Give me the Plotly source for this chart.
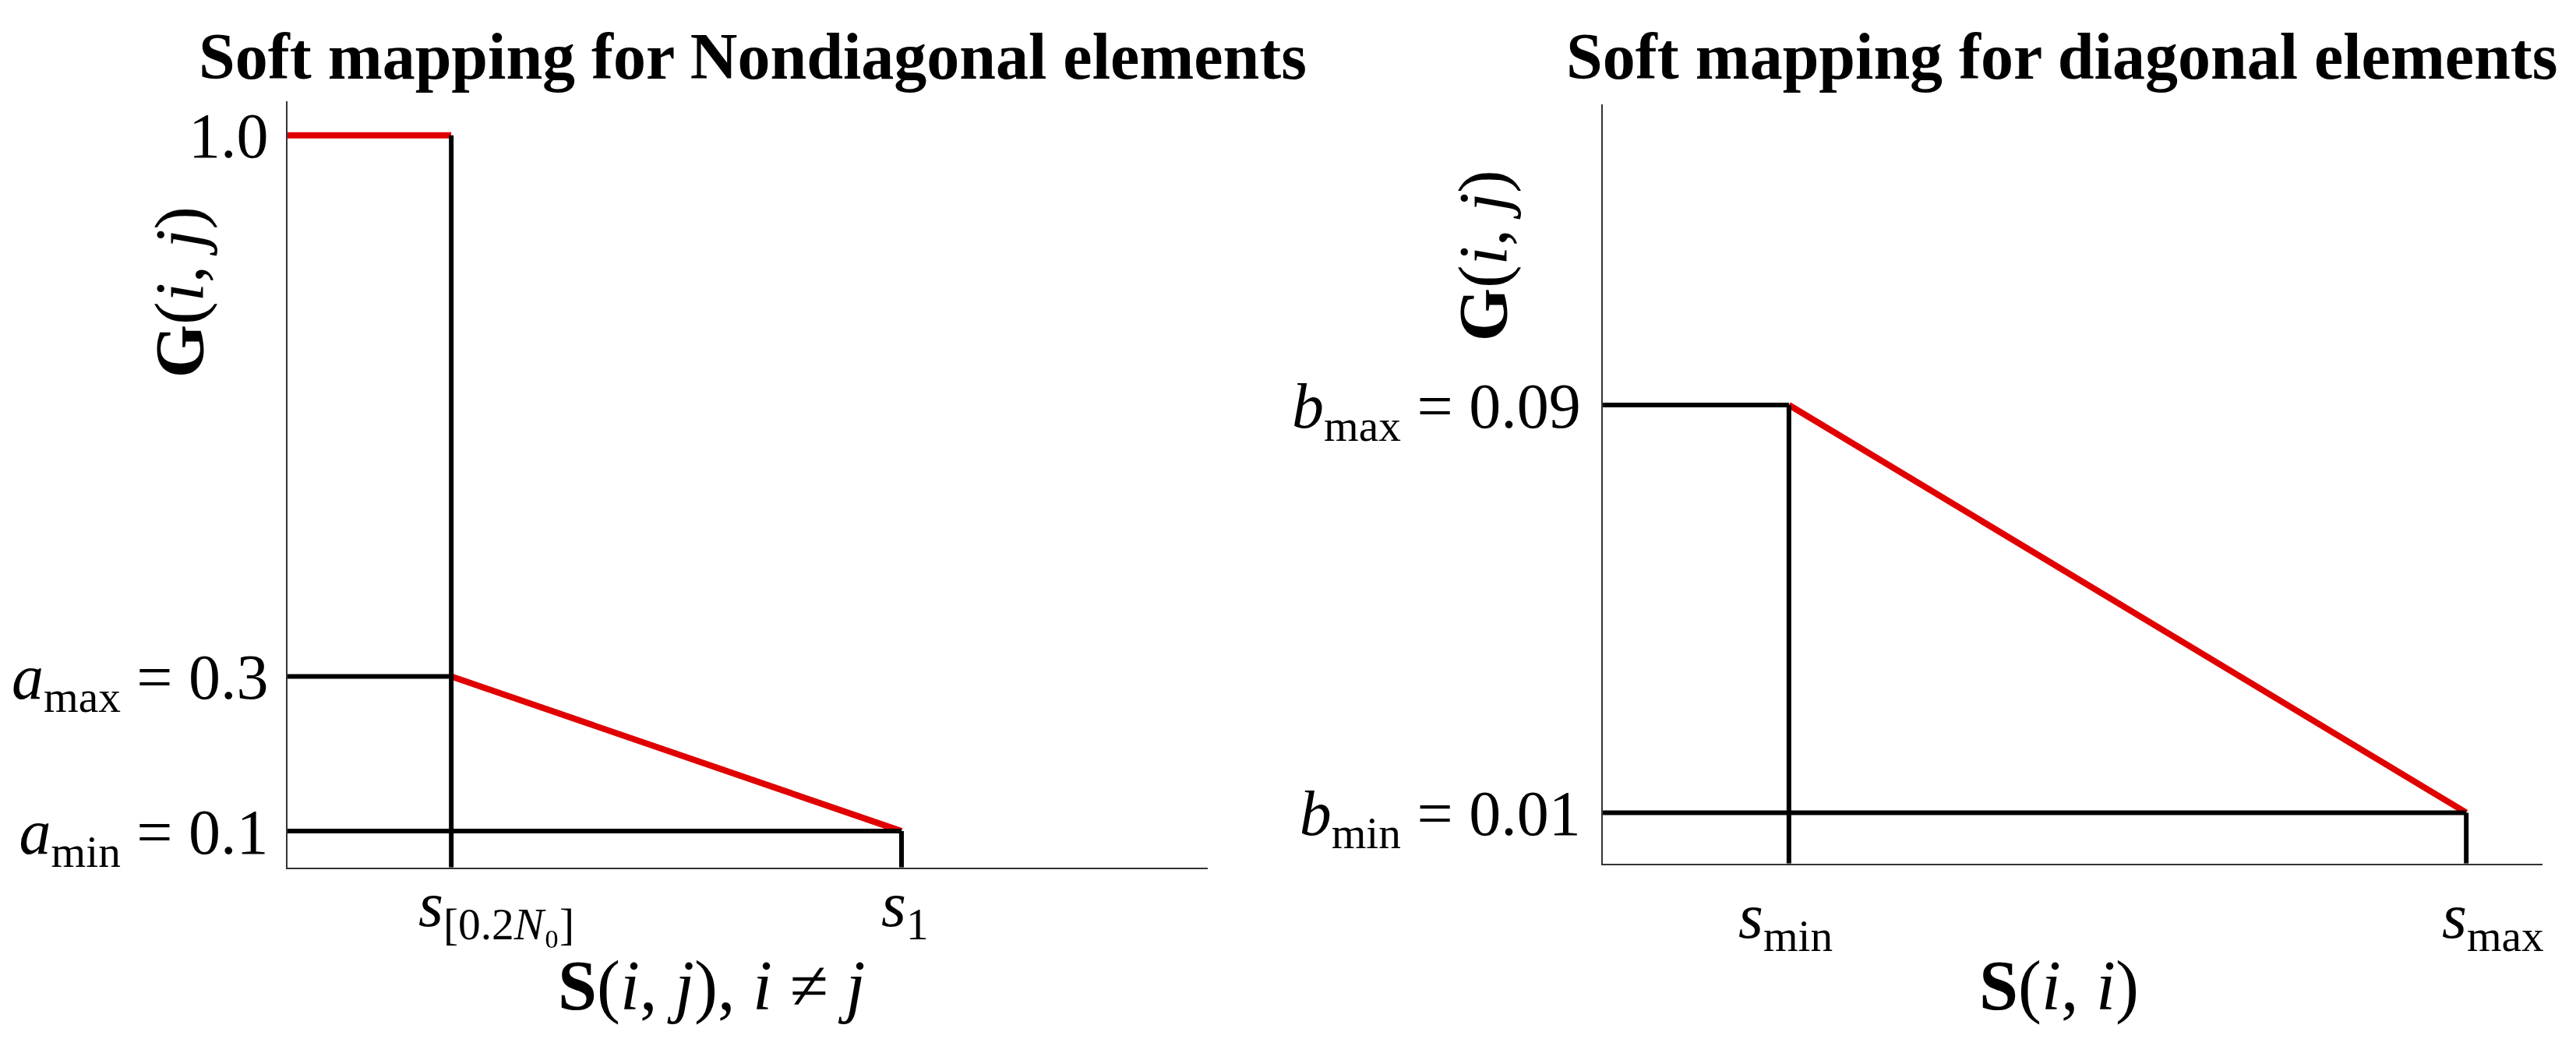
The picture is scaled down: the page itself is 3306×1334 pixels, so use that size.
import plotly.graph_objects as go

# Panel 1: soft mapping for non-diagonal elements
nd_s = [0.0, 1.0, 3.75]          # origin, s_[0.2N0], s_1
nd_g = [1.0, 0.3, 0.1]           # 1.0, a_max, a_min
nd_x_labels = ["<i>s</i><sub>[0.2<i>N</i>₀]</sub>", "<i>s</i><sub>1</sub>"]
nd_y_labels = ["1.0", "<i>a</i><sub>max</sub> = 0.3", "<i>a</i><sub>min</sub> = 0.1"]
nd_x_range = [0, 5.62]
nd_y_range = [0.053, 1.044]

# Panel 2: soft mapping for diagonal elements
d_s = [0.0, 1.0, 4.64]           # origin, s_min, s_max
d_g = [0.09, 0.01]               # b_max, b_min
d_x_labels = ["<i>s</i><sub>min</sub>", "<i>s</i><sub>max</sub>"]
d_y_labels = ["<i>b</i><sub>max</sub> = 0.09", "<i>b</i><sub>min</sub> = 0.01"]
d_x_range = [0, 5.05]
d_y_range = [0, 0.149]

titles = ["Soft mapping for Nondiagonal elements", "Soft mapping for diagonal elements"]
x_titles = ["<b>S</b>(<i>i</i>, <i>j</i>), <i>i</i> ≠ <i>j</i>", "<b>S</b>(<i>i</i>, <i>i</i>)"]
y_title = "<b>G</b>(<i>i</i>, <i>j</i>)"

FONT = "Times New Roman, Liberation Serif, serif"
RED = "#e00000"
BLACK = "black"

fig = go.Figure()

# red mapping curves
fig.add_trace(go.Scatter(
    x=[nd_s[0], nd_s[1], None, nd_s[1], nd_s[2]],
    y=[nd_g[0], nd_g[0], None, nd_g[1], nd_g[2]],
    mode="lines", line=dict(color=RED, width=8), xaxis="x", yaxis="y"))
fig.add_trace(go.Scatter(
    x=[d_s[1], d_s[2]], y=[d_g[0], d_g[1]],
    mode="lines", line=dict(color=RED, width=8), xaxis="x2", yaxis="y2"))

# black guide lines
floor1 = nd_y_range[0]
fig.add_trace(go.Scatter(
    x=[nd_s[0], nd_s[1], None, nd_s[0], nd_s[2], None,
       nd_s[1], nd_s[1], None, nd_s[2], nd_s[2]],
    y=[nd_g[1], nd_g[1], None, nd_g[2], nd_g[2], None,
       nd_g[0], floor1, None, nd_g[2], floor1],
    mode="lines", line=dict(color=BLACK, width=6), xaxis="x", yaxis="y"))
floor2 = d_y_range[0]
fig.add_trace(go.Scatter(
    x=[d_s[0], d_s[1], None, d_s[0], d_s[2], None,
       d_s[1], d_s[1], None, d_s[2], d_s[2]],
    y=[d_g[0], d_g[0], None, d_g[1], d_g[1], None,
       d_g[0], floor2, None, d_g[1], floor2],
    mode="lines", line=dict(color=BLACK, width=6), xaxis="x2", yaxis="y2"))

axis_common = dict(showgrid=False, zeroline=False, showline=True,
                   linecolor="#333", linewidth=2, ticks="", fixedrange=True)

annotations = []
# panel titles
for t, xc in zip(titles, [0.2898, 0.798]):
    annotations.append(dict(text="<b>%s</b>" % t, x=xc, y=0.951, xref="paper", yref="paper",
                            xanchor="center", yanchor="middle", showarrow=False,
                            font=dict(size=84, family=FONT, color="black")))
# x axis titles
for t, xc in zip(x_titles, [0.274, 0.797]):
    annotations.append(dict(text=t, x=xc, y=0.049, xref="paper", yref="paper",
                            xanchor="center", yanchor="middle", showarrow=False,
                            font=dict(size=90, family=FONT, color="black")))
# y axis titles
for xc, yc in [(0.0672, 0.7226), (0.5732, 0.7579)]:
    annotations.append(dict(text=y_title, x=xc, y=yc, xref="paper", yref="paper",
                            xanchor="center", yanchor="middle", textangle=-90, showarrow=False,
                            font=dict(size=88, family=FONT, color="black")))
# x tick labels (the "s" sits over the tick, subscripts run right)
nudge = {"x": [58, 5], "x2": [-4, 34]}
for ax, vals, labels, ybot, ys in [("x", nd_s[1:], nd_x_labels, 0.1642, 0),
                                   ("x2", d_s[1:], d_x_labels, 0.1679, -20)]:
    for v, lab, dx in zip(vals, labels, nudge[ax]):
        annotations.append(dict(text=lab, x=v, y=ybot, xref=ax, yref="paper",
                                xanchor="center", yanchor="top", xshift=dx, yshift=ys,
                                showarrow=False,
                                font=dict(size=82, family=FONT, color="black")))

fig.update_layout(
    width=3306, height=1334,
    margin=dict(l=0, r=0, t=0, b=0),
    paper_bgcolor="white", plot_bgcolor="white",
    showlegend=False,
    font=dict(family=FONT, size=82, color="black"),
    xaxis=dict(domain=[0.1092, 0.4664], range=nd_x_range, showticklabels=False, **axis_common),
    yaxis=dict(domain=[0.1642, 0.9078], range=nd_y_range, tickvals=nd_g, ticktext=nd_y_labels,
               ticklabelstandoff=6, anchor="x", **axis_common),
    xaxis2=dict(domain=[0.6198, 0.9846], range=d_x_range, showticklabels=False,
                anchor="y2", **axis_common),
    yaxis2=dict(domain=[0.1679, 0.9048], range=d_y_range, tickvals=d_g, ticktext=d_y_labels,
                ticklabelstandoff=10, anchor="x2", **axis_common),
    annotations=annotations,
)

fig.write_html("out.html")
